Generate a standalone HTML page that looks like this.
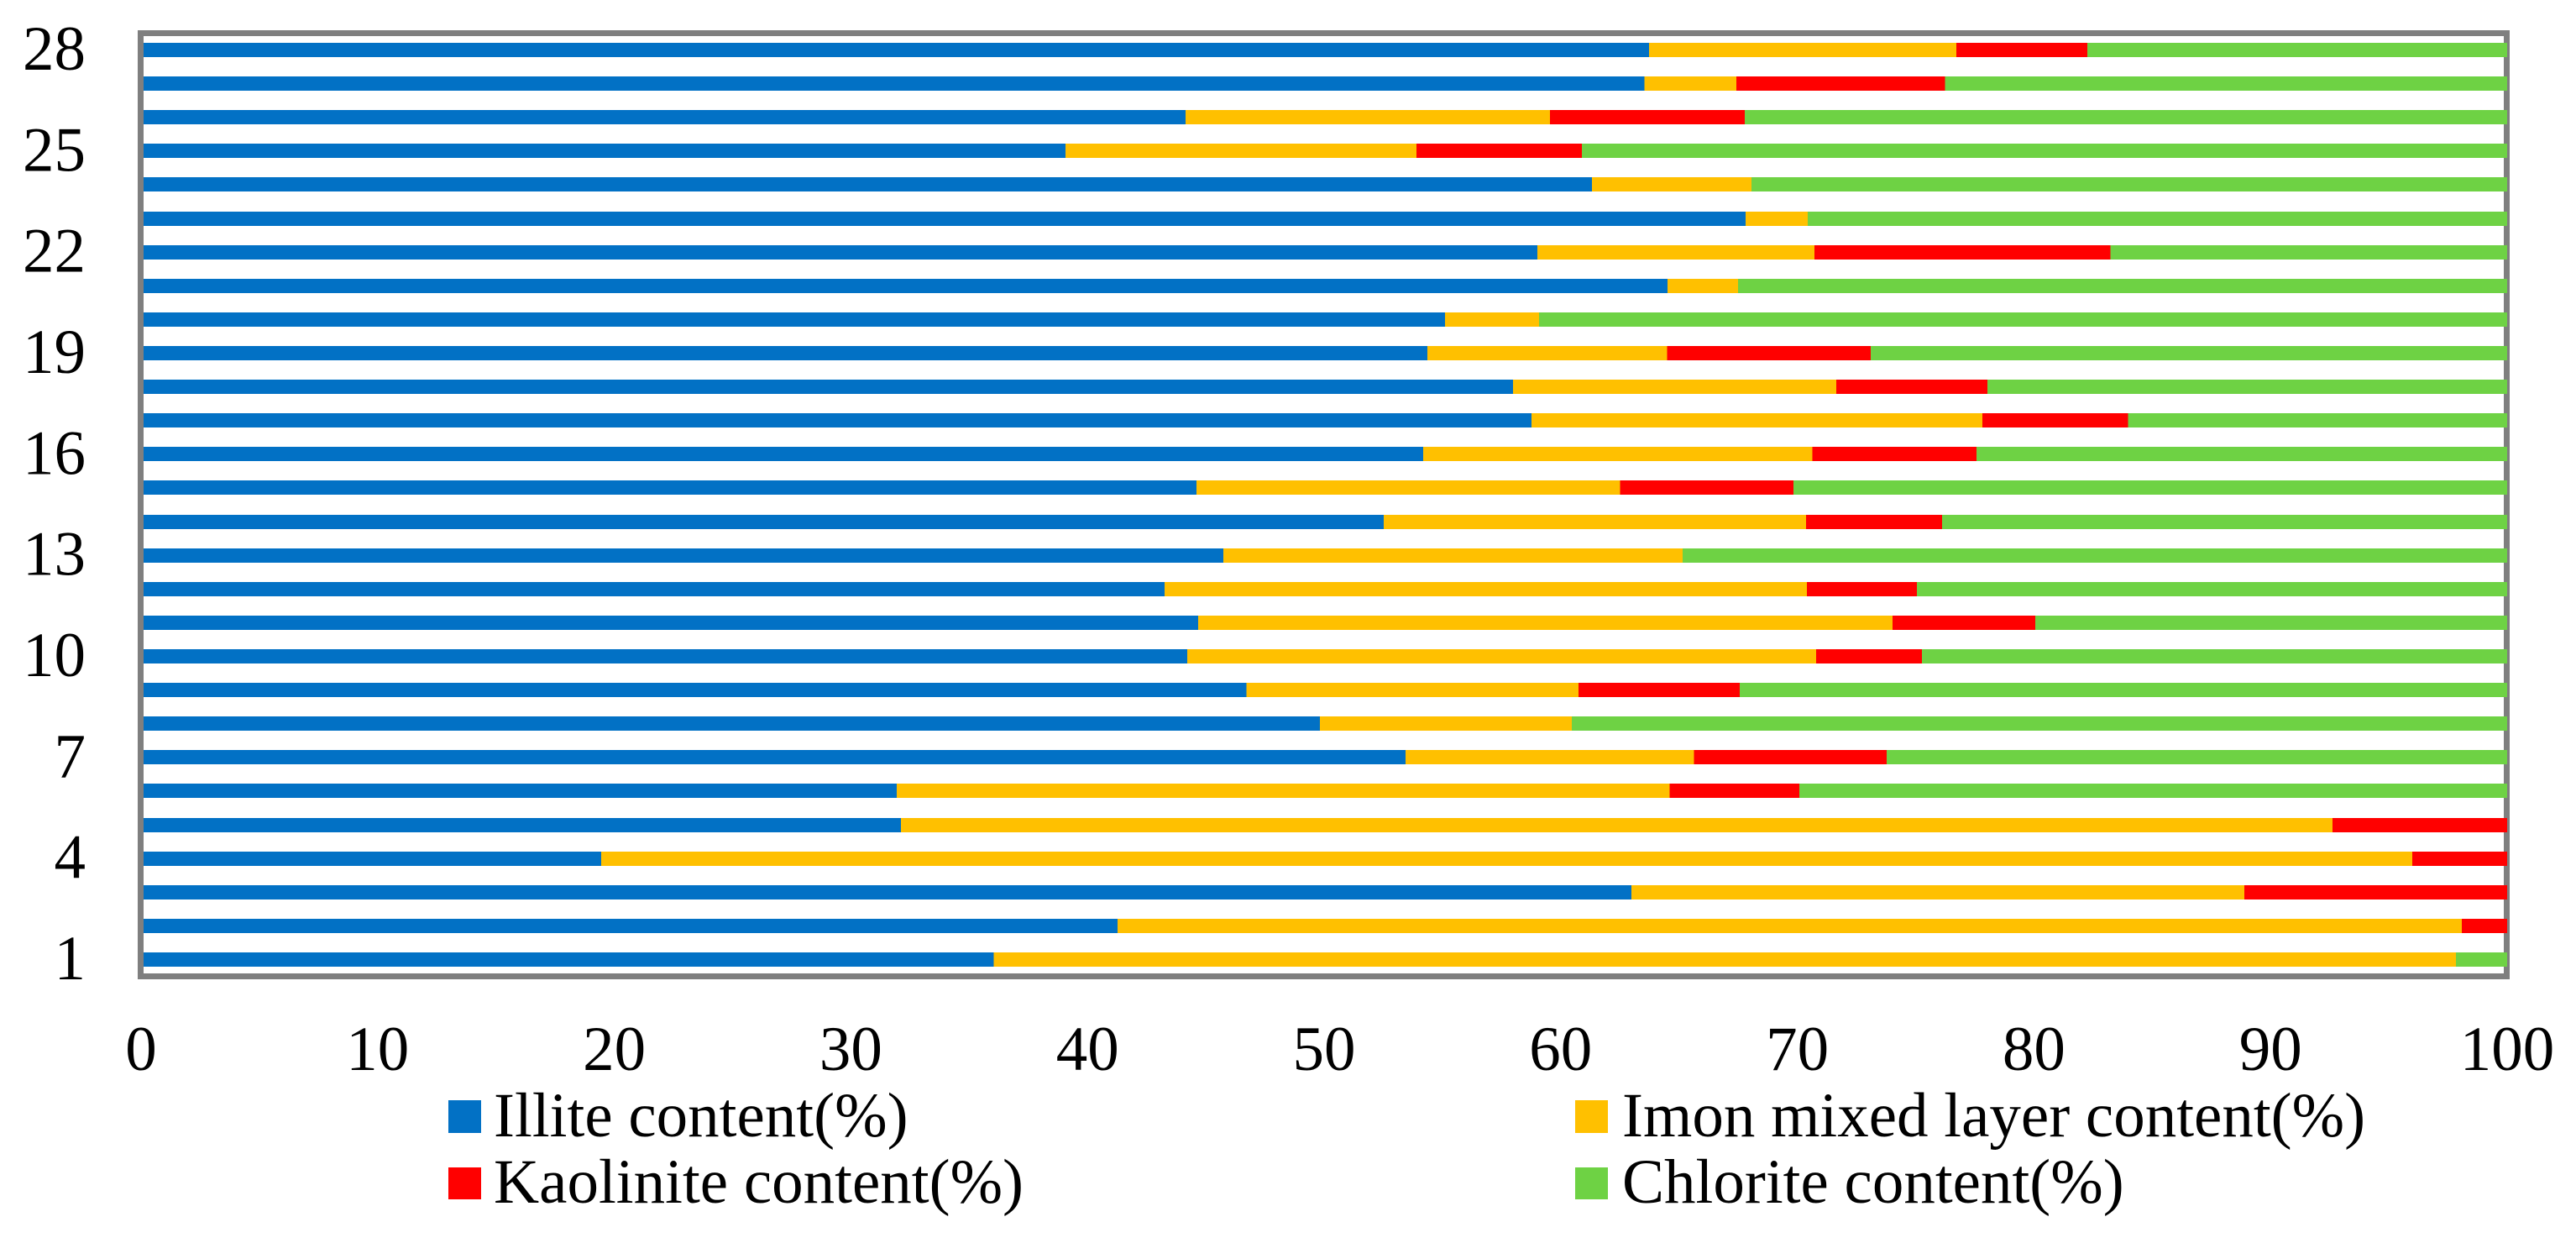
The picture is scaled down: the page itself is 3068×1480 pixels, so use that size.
<!DOCTYPE html>
<html lang="en">
<head>
<meta charset="utf-8">
<title>Clay mineral content stacked bar chart</title>
<style>
  html, body { margin: 0; padding: 0; background: #ffffff; }
  svg { display: block; }
  text { font-family: "Liberation Serif", serif; font-size: 75px; fill: #000000; }
</style>
</head>
<body>
<svg id="chart" xmlns="http://www.w3.org/2000/svg" width="3068" height="1480" viewBox="0 0 3068 1480">
  <rect x="0" y="0" width="3068" height="1480" fill="#ffffff"/>
  <rect x="167.5" y="39.5" width="2818" height="1123" fill="none" stroke="#7f7f7f" stroke-width="7"/>
  <g id="bars" shape-rendering="crispEdges"></g>
  <rect x="164" y="36" width="7" height="1130" fill="#7f7f7f" shape-rendering="crispEdges"/>
  <g id="y-axis"></g>
  <g id="x-axis"></g>
  <g>
    <g>
      <rect x="534" y="1310" width="39" height="39" fill="#0271c5"/>
      <text x="588" y="1353">Illite content(%)</text>
    </g>
    <g>
      <rect x="1876" y="1310" width="39" height="39" fill="#ffc000"/>
      <text x="1932" y="1353">Imon mixed layer content(%)</text>
    </g>
    <g>
      <rect x="534" y="1390" width="39" height="38" fill="#ff0000"/>
      <text x="588" y="1432">Kaolinite content(%)</text>
    </g>
    <g>
      <rect x="1876" y="1390" width="39" height="38" fill="#6ed244"/>
      <text x="1932" y="1432">Chlorite content(%)</text>
    </g>
  </g>
</svg>
<script>
// Sample numbers, top of the chart to bottom
const categories = [28,27,26,25,24,23,22,21,20,19,18,17,16,15,14,13,12,11,10,9,8,7,6,5,4,3,2,1];
const illite = [63.73,63.53,44.15,39.07,61.32,67.82,59.02,64.52,55.11,54.36,57.99,58.76,54.18,44.61,52.52,45.75,43.26,44.68,44.21,46.71,49.82,53.44,31.93,32.12,19.44,62.98,41.27,36.03];
const imon = [12.99,3.89,15.39,14.84,6.75,2.62,11.71,2.97,3.98,10.13,13.66,19.07,16.45,17.89,17.85,19.40,27.15,29.35,26.58,14.05,10.64,12.20,32.68,60.50,76.55,25.91,56.82,61.80];
const kaolinite = [5.54,8.83,8.24,6.99,0,0,12.51,0,0,8.62,6.38,6.14,6.95,7.34,5.74,0,4.65,6.03,4.47,6.80,0,8.13,5.47,7.38,4.01,11.11,1.91,0];
const chlorite = [17.74,23.75,32.22,39.10,31.93,29.56,16.76,32.51,40.91,26.89,21.97,16.03,22.42,30.16,23.89,34.85,24.94,19.94,24.74,32.44,39.54,26.23,29.92,0,0,0,0,2.17];
const xTickLabels = [0,10,20,30,40,50,60,70,80,90,100];
const yTickLabels = [1,4,7,10,13,16,19,22,25,28];

const SVG_NS = 'http://www.w3.org/2000/svg';
const seriesList = [
  { key: 'illite', values: illite, color: '#0271c5' },
  { key: 'imon', values: imon, color: '#ffc000' },
  { key: 'kaolinite', values: kaolinite, color: '#ff0000' },
  { key: 'chlorite', values: chlorite, color: '#6ed244' }
];

// Axis functions
function xScale(value) { return 168 + value * 28.18; }
function yScale(category) { return 1142.5 - (category - 1) * (1083 / 27); }
const BAR_HEIGHT = 17;

const barsGroup = document.getElementById('bars');
categories.forEach(function (category, rowIndex) {
  let cumulative = 0;
  seriesList.forEach(function (series) {
    const value = series.values[rowIndex];
    if (value > 0) {
      const x0 = xScale(cumulative);
      const x1 = xScale(cumulative + value);
      const rect = document.createElementNS(SVG_NS, 'rect');
      
      
      rect.setAttribute('x', x0);
      rect.setAttribute('y', Math.round(yScale(category) - BAR_HEIGHT / 2));
      rect.setAttribute('width', x1 - x0);
      rect.setAttribute('height', BAR_HEIGHT);
      rect.setAttribute('fill', series.color);
      barsGroup.appendChild(rect);
    }
    cumulative += value;
  });
});

const yAxisGroup = document.getElementById('y-axis');
yTickLabels.forEach(function (label) {
  const text = document.createElementNS(SVG_NS, 'text');
  
  
  text.setAttribute('x', 102);
  text.setAttribute('y', yScale(label) + 23.5);
  text.setAttribute('text-anchor', 'end');
  text.textContent = label;
  yAxisGroup.appendChild(text);
});

const xAxisGroup = document.getElementById('x-axis');
xTickLabels.forEach(function (label) {
  const text = document.createElementNS(SVG_NS, 'text');
  
  
  text.setAttribute('x', xScale(label));
  text.setAttribute('y', 1274);
  text.setAttribute('text-anchor', 'middle');
  text.textContent = label;
  xAxisGroup.appendChild(text);
});
</script>
</body>
</html>
